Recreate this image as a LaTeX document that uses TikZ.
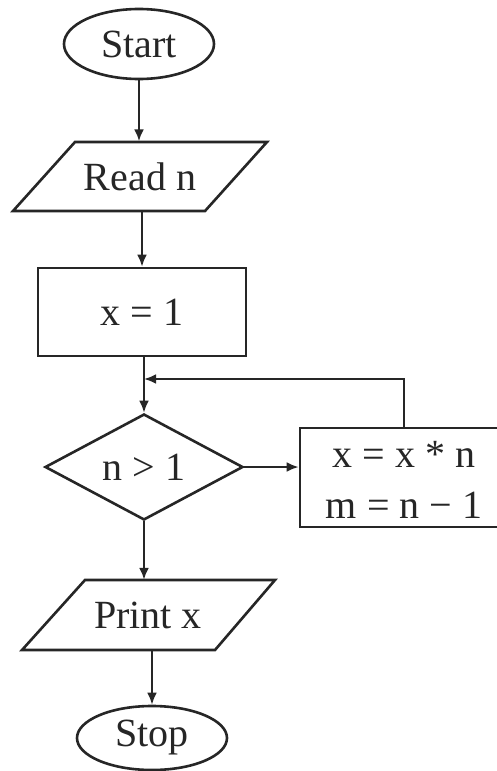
\documentclass[tikz,border=0pt]{standalone}
\usepackage{fontspec}
\setmainfont{Liberation Serif}
\usetikzlibrary{shapes.geometric,arrows.meta}
\begin{document}
\begin{tikzpicture}[x=1pt,y=-1pt,
  every node/.style={font=\fontsize{40}{51}\selectfont, text=black!85},
  line/.style={draw=black!85, line width=2.6pt, line join=miter},
  arrow/.style={line, -{Latex[length=12pt,width=10pt]}},
  term/.style={line, ellipse, minimum width=150pt, minimum height=70pt, inner sep=0pt},
  proc/.style={line, rectangle, inner sep=0pt},
  decide/.style={line, diamond, aspect=2, inner sep=2pt, minimum width=198pt, minimum height=106pt},
  iotext/.style={rectangle, inner sep=0pt, minimum height=70pt, minimum width=130pt}
]
\useasboundingbox (0,0) rectangle (497,771);
\fill[white] (0,0) rectangle (497,771);
\clip (0,0) rectangle (497,771);

% Start
\node[term] (start) at (139,44) {Start};

% Read n (parallelogram)
\draw[line] (75,142) -- (267,142) -- (205,211) -- (13,211) -- cycle;
\node[iotext] (read) at (140,176.5) {Read n};

% x = 1
\node[proc, minimum width=208pt, minimum height=88pt] (init) at (142,312) {x = 1};

% decision
\node[decide] (cond) at (144,467) {n > 1};

% process box (its right side lies beyond the picture's edge)
\node[proc, minimum width=250pt, minimum height=99pt] (body) at (425,477.5) {};
\node[align=center, inner sep=0pt] (bodytext) at (404,480) {x = x * n\\m = n − 1};

% Print x (parallelogram)
\draw[line] (85,580) -- (275,580) -- (215,650) -- (22,650) -- cycle;
\node[iotext] (print) at (148,615) {Print x};

% Stop
\node[term, minimum height=64pt] (stop) at (152,738) {Stop};

% junction on the line above the decision
\coordinate (j) at (144,379);
\coordinate (up) at (404,428);

% connectors
\draw[arrow] (start.south) -- (start.south |- read.north);
\draw[arrow] (read.south -| init.north) -- (init.north);
\draw[line] (init.south -| cond.north) -- (j);
\draw[arrow] (j) -- (cond.north);
\draw[arrow] (cond.east) -- (cond.east -| body.west);
\draw[arrow] (up) |- (j);
\draw[arrow] (cond.south) -- (cond.south |- print.north);
\draw[arrow] (print.south -| stop.north) -- (stop.north);
\end{tikzpicture}
\end{document}
